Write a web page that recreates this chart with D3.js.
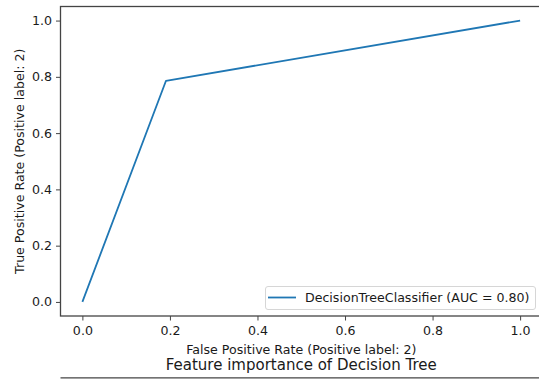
<!DOCTYPE html>
<html>
<head>
<meta charset="utf-8">
<script src="https://cdn.jsdelivr.net/npm/d3@7"></script>
<style>
  html, body { margin: 0; padding: 0; background: #fff; }
  svg { display: block; font-family: "DejaVu Sans", sans-serif; }
</style>
</head>
<body>
<svg id="chart" width="539" height="379"></svg>
<script>
// ROC curve points for the decision tree classifier
const fpr = [0, 0.191, 1];
const tpr = [0, 0.786, 1];
const aucLabel = "DecisionTreeClassifier (AUC = 0.80)";
const xTicks = [0.0, 0.2, 0.4, 0.6, 0.8, 1.0];
const yTicks = [0.0, 0.2, 0.4, 0.6, 0.8, 1.0];
const xTitle = "False Positive Rate (Positive label: 2)";
const yTitle = "True Positive Rate (Positive label: 2)";
const nextTitle = "Feature importance of Decision Tree";

const svg = d3.select("#chart");
const plotL = 60.5, plotR = 542, plotT = 6.5, plotB = 316;
const fs = 12.6;       // tick / label / legend font size
const titleFs = 15;    // panel title font size

const x = d3.scaleLinear().domain([-0.05, 1.05]).range([plotL, plotR]);
const y = d3.scaleLinear().domain([-0.05, 1.05]).range([plotB, plotT]);

const spine = "#444";
const textCol = "#1a1a1a";

// axes
const xAxis = svg.append("g")
  .attr("transform", `translate(0,${plotB})`)
  .call(d3.axisBottom(x).tickValues(xTicks).tickFormat(d3.format(".1f")).tickSize(4.5).tickPadding(5.5));
const yAxis = svg.append("g")
  .attr("transform", `translate(${plotL},0)`)
  .call(d3.axisLeft(y).tickValues(yTicks).tickFormat(d3.format(".1f")).tickSize(4.5).tickPadding(4));
[xAxis, yAxis].forEach(g => {
  g.select(".domain").remove();
  g.selectAll(".tick line").attr("stroke", spine).attr("stroke-width", 1);
  g.selectAll(".tick text").attr("fill", textCol).attr("font-size", fs)
    .attr("font-family", "DejaVu Sans, sans-serif");
});

// spines
svg.append("rect")
  .attr("x", plotL).attr("y", plotT)
  .attr("width", plotR - plotL).attr("height", plotB - plotT)
  .attr("fill", "none").attr("stroke", spine).attr("stroke-width", 1.3);

// curve
const line = d3.line().x((d, i) => x(fpr[i])).y((d, i) => y(tpr[i]));
svg.append("path")
  .datum(fpr)
  .attr("d", line)
  .attr("fill", "none")
  .attr("stroke", "#1f77b4")
  .attr("stroke-width", 1.8)
  .attr("stroke-linejoin", "round");

// axis titles
svg.append("text")
  .attr("x", (plotL + plotR) / 2).attr("y", 354)
  .attr("text-anchor", "middle").attr("font-size", fs).attr("fill", textCol)
  .text(xTitle);
svg.append("text")
  .attr("transform", `translate(23.5,${(plotT + plotB) / 2}) rotate(-90)`)
  .attr("text-anchor", "middle").attr("font-size", fs).attr("fill", textCol)
  .text(yTitle);

// legend
const lg = svg.append("g");
lg.append("rect")
  .attr("x", 265.5).attr("y", 286.5).attr("width", 270).attr("height", 23)
  .attr("rx", 2.5).attr("fill", "#fff").attr("fill-opacity", 0.8)
  .attr("stroke", "#d6d6d6").attr("stroke-width", 1);
lg.append("line")
  .attr("x1", 268).attr("x2", 296).attr("y1", 297.5).attr("y2", 297.5)
  .attr("stroke", "#1f77b4").attr("stroke-width", 1.8);
lg.append("text")
  .attr("x", 305).attr("y", 302)
  .attr("font-size", fs).attr("fill", textCol)
  .text(aucLabel);

// title of the following panel and its top spine
svg.append("text")
  .attr("x", (plotL + plotR) / 2).attr("y", 370)
  .attr("text-anchor", "middle").attr("font-size", titleFs).attr("fill", textCol)
  .text(nextTitle);
svg.append("line")
  .attr("x1", plotL).attr("x2", plotR).attr("y1", 377.8).attr("y2", 377.8)
  .attr("stroke", spine).attr("stroke-width", 1.3);
</script>
</body>
</html>
